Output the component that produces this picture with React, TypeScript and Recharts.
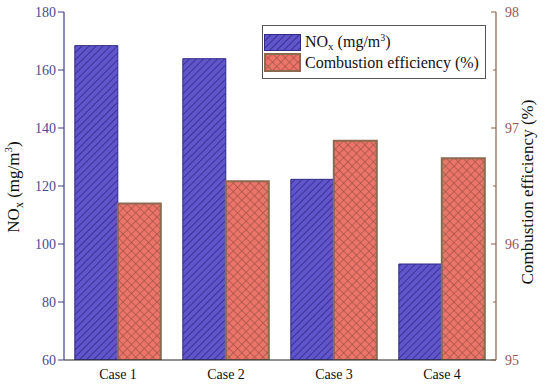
import React from 'react';
import { BarChart, Bar, XAxis, YAxis } from 'recharts';

const cases = ['Case 1', 'Case 2', 'Case 3', 'Case 4'];
const noxValues = [168.4, 163.9, 122.3, 93.1];
const efficiencyValues = [96.35, 96.54, 96.89, 96.74];
const noxTicks = [60, 80, 100, 120, 140, 160, 180];
const effTicks = [95, 95.5, 96, 96.5, 97, 97.5, 98];

const data = cases.map((name, i) => ({
  name,
  nox: noxValues[i],
  eff: efficiencyValues[i],
}));

const FONT = "'Liberation Serif', 'Times New Roman', serif";
const BLUE_AXIS = '#3f3d8c';
const BROWN_AXIS = '#8b5e4b';

const PatternDefs = ({ prefix }: { prefix: string }) => (
  <defs>
    <pattern id={`${prefix}-hatch`} patternUnits="userSpaceOnUse" width={5} height={5} patternTransform="rotate(45)">
      <rect width={5} height={5} fill="#6155cc" />
      <line x1={0} y1={0} x2={0} y2={5} stroke="#2f2b86" strokeWidth={1.6} />
    </pattern>
    <pattern id={`${prefix}-cross`} patternUnits="userSpaceOnUse" width={6} height={6} patternTransform="rotate(45)">
      <rect width={6} height={6} fill="#ec7468" />
      <line x1={0} y1={0} x2={0} y2={6} stroke="#8e4a40" strokeWidth={1.1} />
      <line x1={0} y1={0} x2={6} y2={0} stroke="#8e4a40" strokeWidth={1.1} />
    </pattern>
  </defs>
);

const LeftTick = (props: any) => {
  const { x, y, payload } = props;
  return (
    <g>
      <line x1={x - 6} y1={y} x2={x} y2={y} stroke={BLUE_AXIS} strokeWidth={1} />
      <text x={x - 8} y={y} dy={5} textAnchor="end" fontSize={14} fontFamily={FONT} fill="#4b4a92">
        {payload.value}
      </text>
    </g>
  );
};

const RightTick = (props: any) => {
  const { x, y, payload } = props;
  const major = Number.isInteger(payload.value);
  return (
    <g>
      <line x1={x - (major ? 5 : 3)} y1={y} x2={x} y2={y} stroke={BROWN_AXIS} strokeWidth={1} />
      {major && (
        <text x={x + 9} y={y} dy={5} textAnchor="start" fontSize={14} fontFamily={FONT} fill="#9a5550">
          {payload.value}
        </text>
      )}
    </g>
  );
};

const BottomTick = (props: any) => {
  const { x, y, payload } = props;
  return (
    <text x={x} y={y + 19} textAnchor="middle" fontSize={14} fontFamily={FONT} fill="#111">
      {payload.value}
    </text>
  );
};

const TopTick = (props: any) => {
  const { x, y, index } = props;
  return (
    <g>
      <line x1={x} y1={y} x2={x} y2={y + 5} stroke="#222" strokeWidth={1} />
      {index < cases.length - 1 && (
        <line x1={x + 54} y1={y} x2={x + 54} y2={y + 5} stroke="#222" strokeWidth={1} />
      )}
    </g>
  );
};

const LeftTitle = () => (
  <text x={19} y={187} transform="rotate(-90 19 187)" textAnchor="middle" fontSize={17} fontFamily={FONT} fill="#111">
    <tspan>NO</tspan>
    <tspan dy={4} fontSize={12}>x</tspan>
    <tspan dy={-4}> (mg/m</tspan>
    <tspan dy={-7} fontSize={11}>3</tspan>
    <tspan dy={7}>)</tspan>
  </text>
);

const RightTitle = () => (
  <text x={533} y={192} transform="rotate(-90 533 192)" textAnchor="middle" fontSize={17} fontFamily={FONT} fill="#111">
    Combustion efficiency (%)
  </text>
);

const Swatch = ({ kind }: { kind: 'hatch' | 'cross' }) => (
  <svg width={37} height={kind === 'hatch' ? 17 : 19} style={{ display: 'block' }}>
    <PatternDefs prefix={`lg-${kind}`} />
    <rect
      x={kind === 'hatch' ? 0.5 : 1}
      y={kind === 'hatch' ? 0.5 : 1}
      width={kind === 'hatch' ? 36 : 35}
      height={kind === 'hatch' ? 16 : 17}
      fill={`url(#lg-${kind}-${kind})`}
      stroke={kind === 'hatch' ? '#2f2b86' : '#8b6a50'}
      strokeWidth={kind === 'hatch' ? 1 : 2}
    />
  </svg>
);

export default function App() {
  return (
    <div style={{ position: 'absolute', left: 0, top: 0, width: 550, height: 387, background: '#fff' }}>
      <BarChart
        width={550}
        height={387}
        data={data}
        margin={{ top: 12, right: 0, left: 0, bottom: 0 }}
        barCategoryGap="10%"
        barGap={0}
      >
        <PatternDefs prefix="bar" />
        <XAxis
          dataKey="name"
          height={27}
          axisLine={{ stroke: '#222', strokeWidth: 1 }}
          tickLine={false}
          tickSize={0}
          tickMargin={0}
          tick={<BottomTick />}
        />
        <XAxis
          xAxisId="top"
          dataKey="name"
          orientation="top"
          height={0}
          axisLine={{ stroke: '#222', strokeWidth: 1 }}
          tickLine={false}
          tickSize={0}
          tickMargin={0}
          tick={<TopTick />}
        />
        <YAxis
          yAxisId="left"
          width={64}
          domain={[60, 180]}
          ticks={noxTicks}
          allowDataOverflow
          axisLine={{ stroke: BLUE_AXIS, strokeWidth: 1.2 }}
          tickLine={false}
          tickSize={0}
          tickMargin={0}
          tick={<LeftTick />}
          label={{ content: () => <LeftTitle /> }}
        />
        <YAxis
          yAxisId="right"
          orientation="right"
          width={54}
          domain={[95, 98]}
          ticks={effTicks}
          allowDataOverflow
          axisLine={{ stroke: BROWN_AXIS, strokeWidth: 1.2 }}
          tickLine={false}
          tickSize={0}
          tickMargin={0}
          tick={<RightTick />}
          label={{ content: () => <RightTitle /> }}
        />
        <Bar
          yAxisId="left"
          dataKey="nox"
          fill="url(#bar-hatch)"
          stroke="#2f2b86"
          strokeWidth={1}
          isAnimationActive={false}
        />
        <Bar
          yAxisId="right"
          dataKey="eff"
          fill="url(#bar-cross)"
          stroke="#8b6a50"
          strokeWidth={2}
          isAnimationActive={false}
        />
      </BarChart>
      <div
        style={{
          position: 'absolute',
          left: 262,
          top: 25,
          width: 222,
          height: 52,
          border: '1px solid #555',
          background: '#fff',
          fontFamily: FONT,
          fontSize: 16,
          color: '#111',
        }}
      >
        <div style={{ position: 'absolute', left: 1, top: 3, display: 'flex', alignItems: 'center' }}>
          <Swatch kind="hatch" />
          <span style={{ marginLeft: 4, lineHeight: '18px' }}>
            NO<sub style={{ fontSize: 11, verticalAlign: '-3px' }}>x</sub> (mg/m
            <sup style={{ fontSize: 10, verticalAlign: '6px' }}>3</sup>)
          </span>
        </div>
        <div style={{ position: 'absolute', left: 1, top: 27, display: 'flex', alignItems: 'center' }}>
          <Swatch kind="cross" />
          <span style={{ marginLeft: 4, lineHeight: '18px' }}>Combustion efficiency (%)</span>
        </div>
      </div>
    </div>
  );
}
